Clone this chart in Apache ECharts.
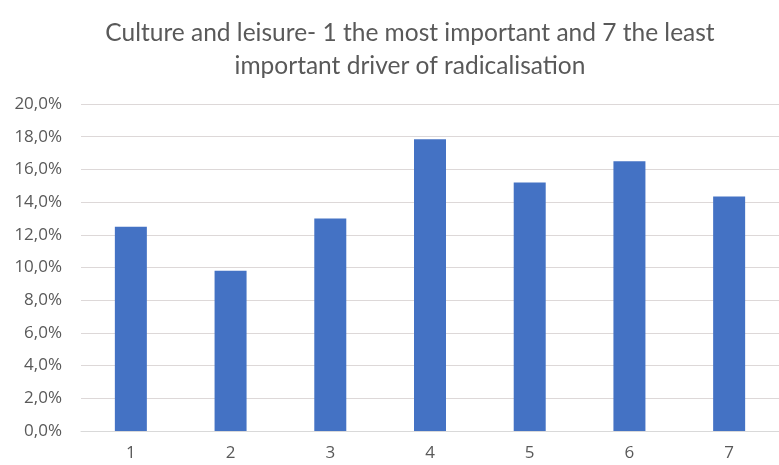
<!DOCTYPE html>
<html><head><meta charset="utf-8">
<script src="https://cdn.jsdelivr.net/npm/echarts@6/dist/echarts.min.js"></script>
<style>html,body{margin:0;padding:0;background:#fff}#c{width:779px;height:465px}</style>
</head><body><div id="c"></div>
<script>
const titleText = 'Culture and leisure- 1 the most important and 7 the least\nimportant driver of radicalisation';
const categories = ['1','2','3','4','5','6','7'];
const values = [12.5, 9.8, 13.0, 17.85, 15.2, 16.5, 14.35];
const yMin = 0, yMax = 20, yStep = 2;

const chart = echarts.init(document.getElementById('c'), null, {renderer:'canvas'});
chart.setOption({
  animation:false,
  backgroundColor:'#ffffff',
  title:{
    text:titleText,
    left:405, top:12, textAlign:'center',
    textStyle:{fontFamily:'Lato', fontSize:24.5, fontWeight:'normal', color:'#595959', lineHeight:33}
  },
  grid:{left:81, right:-12, top:104, bottom:34, containLabel:false},
  xAxis:{
    type:'category', data:categories,
    axisLine:{show:true, lineStyle:{color:'#d9d9d9', width:1}},
    axisTick:{show:false},
    axisLabel:{fontFamily:'Open Sans', fontSize:17, color:'#595959', margin:14}
  },
  yAxis:{
    type:'value', min:yMin, max:yMax, interval:yStep,
    axisLine:{show:false}, axisTick:{show:false},
    splitLine:{lineStyle:{color:'#ddd8d8', width:1}},
    axisLabel:{fontFamily:'Open Sans', fontSize:17, color:'#595959', margin:19,
      formatter:v=>v.toFixed(1).replace('.',',')+'%'}
  },
  series:[{
    type:'bar', data:values, barWidth:32,
    itemStyle:{color:'#4472C4'}
  }]
});
</script></body></html>
